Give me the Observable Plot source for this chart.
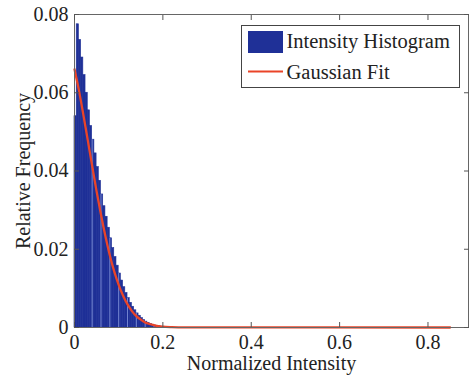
<!DOCTYPE html>
<html>
<head>
<meta charset="utf-8">
<script src="https://cdn.jsdelivr.net/npm/d3@7"></script>
<script src="https://cdn.jsdelivr.net/npm/@observablehq/plot@0.6"></script>
<style>
  html, body { margin: 0; padding: 0; background: #fff; }
  #wrap { position: relative; width: 469px; height: 377px; }
  #wrap svg { display: block; }
  #wrap svg text { font-family: 'Liberation Serif', 'Times New Roman', 'DejaVu Serif', serif; }
  #legend { position: absolute; left: 0; top: 0; }
</style>
</head>
<body>
<div id="wrap"></div>
<script>
// Histogram bins (left edges, width 0.005) and relative frequencies
const binLeft = [0, 0.005, 0.01, 0.015, 0.02, 0.025, 0.03, 0.035, 0.04, 0.045,
  0.05, 0.055, 0.06, 0.065, 0.07, 0.075, 0.08, 0.085, 0.09, 0.095,
  0.1, 0.105, 0.11, 0.115, 0.12, 0.125, 0.13, 0.135, 0.14, 0.145,
  0.15, 0.155, 0.16, 0.165, 0.17, 0.175, 0.18, 0.185, 0.19, 0.195];
const binFreq = [0.054, 0.0775, 0.0735, 0.069, 0.0645, 0.060, 0.0555, 0.0515, 0.048, 0.0445,
  0.041, 0.0375, 0.034, 0.031, 0.0283, 0.0255, 0.0228, 0.0203, 0.018, 0.0158,
  0.0138, 0.012, 0.0103, 0.0088, 0.0075, 0.0063, 0.0053, 0.0044, 0.0036, 0.003,
  0.0024, 0.0019, 0.0015, 0.0012, 0.0009, 0.0007, 0.0005, 0.0004, 0.0003, 0.0002];
const binWidth = 0.005;

// Gaussian fit curve
const fitX = [0, 0.01, 0.02, 0.03, 0.04, 0.05, 0.06, 0.07, 0.08, 0.09, 0.1,
  0.11, 0.12, 0.13, 0.14, 0.15, 0.16, 0.17, 0.18, 0.19, 0.2, 0.22, 0.25, 0.85];
const fitY = [0.066, 0.0606, 0.0544, 0.0479, 0.0413, 0.0348, 0.0288, 0.0233, 0.0184, 0.0143, 0.0109,
  0.0081, 0.0059, 0.0042, 0.0029, 0.002, 0.0013, 0.0009, 0.0006, 0.00035, 0.00022, 0.0001, 0.00003, 0];

const xTicks = [0, 0.2, 0.4, 0.6, 0.8];
const yTicks = [0, 0.02, 0.04, 0.06, 0.08];
const xLabel = "Normalized Intensity";
const yLabel = "Relative Frequency";
const legendLabels = ["Intensity Histogram", "Gaussian Fit"];

const bars = binLeft.map((x, i) => ({x1: x, x2: x + binWidth, y: binFreq[i]}));
const streaks = bars.filter((d, i) => i >= 8 && i % 4 === 0);
const fit = fitX.map((x, i) => ({x, y: fitY[i]}));

const FONT = "'Liberation Serif', 'Times New Roman', 'DejaVu Serif', serif";
const BLUE = "#1f3097";
const RED = "#ea4428";

const chart = Plot.plot({
  width: 469,
  height: 377,
  marginLeft: 74,
  marginRight: 1,
  marginTop: 14,
  marginBottom: 50,
  style: {fontFamily: FONT, fontSize: "20px", color: "#222", background: "#fff"},
  x: {domain: [0, 0.8917]},
  y: {domain: [0, 0.08]},
  marks: [
    Plot.rectY(bars, {x1: "x1", x2: "x2", y: "y", fill: BLUE, stroke: BLUE, strokeWidth: 0.6}),
    Plot.ruleX(streaks, {x: "x1", y1: 0, y2: "y", stroke: "#7d8fd6", strokeWidth: 0.9}),
    Plot.line(fit, {x: "x", y: "y", stroke: RED, strokeWidth: 2.3, curve: "monotone-x"}),
    Plot.frame({stroke: "#666", strokeWidth: 1}),
    // labels
    Plot.axisX({ticks: xTicks, tickSize: 0, tickPadding: 7, tickFormat: d => d.toString(), label: null, fontSize: 20, fontFamily: FONT}),
    Plot.axisY({ticks: yTicks, tickSize: 0, tickPadding: 6, tickFormat: d => d.toString(), label: null, fontSize: 20, fontFamily: FONT}),
    // inward ticks
    Plot.axisX({anchor: "bottom", ticks: xTicks, tickSize: -5, text: null, label: null, stroke: "#555"}),
    Plot.axisX({anchor: "top", ticks: xTicks, tickSize: -5, text: null, label: null, stroke: "#555"}),
    Plot.axisY({anchor: "left", ticks: yTicks, tickSize: -5, text: null, label: null, stroke: "#555"}),
    Plot.axisY({anchor: "right", ticks: yTicks, tickSize: -5, text: null, label: null, stroke: "#555"}),
    Plot.text([xLabel], {frameAnchor: "bottom", dy: 42, lineAnchor: "bottom", fontSize: 20, fontFamily: FONT, fill: "#222"}),
    Plot.text([yLabel], {frameAnchor: "left", dx: -45, rotate: -90, textAnchor: "middle", lineAnchor: "bottom", fontSize: 20, fontFamily: FONT, fill: "#222"})
  ]
});

const wrap = document.getElementById("wrap");
wrap.appendChild(chart);

// Legend overlay
const lg = d3.select(wrap).append("svg")
  .attr("id", "legend")
  .attr("width", 469).attr("height", 377)
  .style("pointer-events", "none")
  .style("font-family", FONT).style("font-size", "20.5px");
lg.append("rect").attr("x", 241.5).attr("y", 25.5).attr("width", 218).attr("height", 62)
  .attr("fill", "#fff").attr("stroke", "#444").attr("stroke-width", 1);
lg.append("rect").attr("x", 248).attr("y", 31).attr("width", 35).attr("height", 22).attr("fill", BLUE);
lg.append("text").attr("x", 286.5).attr("y", 48).attr("fill", "#222").text(legendLabels[0]);
lg.append("line").attr("x1", 248).attr("x2", 283).attr("y1", 71.5).attr("y2", 71.5)
  .attr("stroke", RED).attr("stroke-width", 2.2);
lg.append("text").attr("x", 286.5).attr("y", 79).attr("fill", "#222").text(legendLabels[1]);
</script>
</body>
</html>
